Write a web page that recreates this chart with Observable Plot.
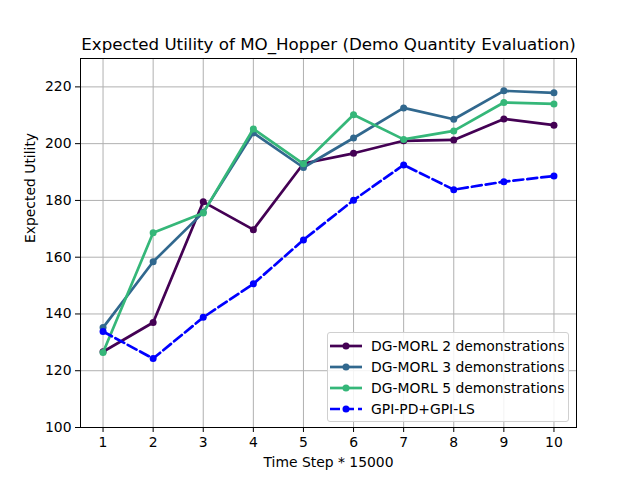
<!DOCTYPE html>
<html>
<head>
<meta charset="utf-8">
<script src="https://cdn.jsdelivr.net/npm/d3@7"></script>
<script src="https://cdn.jsdelivr.net/npm/@observablehq/plot@0.6"></script>
<style>
  body { margin: 0; background: white; font-family: "DejaVu Sans", sans-serif; }
  #wrap { position: relative; width: 640px; height: 480px; }
  #legend { position: absolute; left: 327px; top: 332px; width: 240px; height: 86px;
    border: 1px solid #d0d0d0; border-radius: 3px; background: rgba(255,255,255,0.85);
    font-size: 13.9px; color: #000; padding-top: 2px; box-sizing: content-box; }
  .row { height: 21px; display: flex; align-items: center; white-space: nowrap; }
  .row svg { margin-left: 2px; margin-right: 9px; }
</style>
</head>
<body>
<div id="wrap"></div>
<script>
const steps = [1, 2, 3, 4, 5, 6, 7, 8, 9, 10];
const yTicks = [100, 120, 140, 160, 180, 200, 220];
const seriesNames = ["DG-MORL 2 demonstrations", "DG-MORL 3 demonstrations", "DG-MORL 5 demonstrations", "GPI-PD+GPI-LS"];
const seriesColors = ["#440154", "#31688e", "#35b779", "#0000ff"];
const seriesDash = [null, null, null, "10,4"];
const dg2 = [126.7, 137.0, 179.5, 169.7, 193.0, 196.6, 201.0, 201.3, 208.7, 206.5];
const dg3 = [135.2, 158.4, 175.8, 203.8, 191.6, 202.0, 212.6, 208.6, 218.6, 217.9];
const dg5 = [126.4, 168.6, 175.6, 205.2, 192.9, 210.2, 201.5, 204.5, 214.5, 214.0];
const gpi = [133.8, 124.3, 138.8, 150.6, 166.1, 180.1, 192.5, 183.8, 186.6, 188.6];
const seriesValues = [dg2, dg3, dg5, gpi];

const lineMarks = [];
seriesValues.forEach((vals, i) => {
  const data = steps.map((s, j) => ({x: s, y: vals[j]}));
  lineMarks.push(Plot.line(data, {x: "x", y: "y", stroke: seriesColors[i], strokeWidth: 2.7,
    strokeDasharray: seriesDash[i] || undefined}));
  lineMarks.push(Plot.dot(data, {x: "x", y: "y", fill: seriesColors[i], r: 3.5}));
});

const chart = Plot.plot({
  width: 640, height: 480,
  marginLeft: 80, marginRight: 64, marginTop: 58, marginBottom: 53,
  style: {fontFamily: "DejaVu Sans", fontSize: "13.9px", color: "black", background: "white"},
  x: {domain: [0.55, 10.45]},
  y: {domain: [100, 230]},
  marks: [
    Plot.gridX(steps, {stroke: "#b0b0b0", strokeOpacity: 1, strokeWidth: 1}),
    Plot.gridY(yTicks, {stroke: "#b0b0b0", strokeOpacity: 1, strokeWidth: 1}),
    ...lineMarks,
    Plot.frame({stroke: "black", strokeWidth: 1}),
    Plot.axisX(steps, {tickSize: 5, tickPadding: 5, label: null, tickFormat: d => String(d)}),
    Plot.axisY(yTicks, {tickSize: 5, tickPadding: 4, label: null, tickFormat: d => String(d)}),
    Plot.text(["Time Step * 15000"], {frameAnchor: "bottom", lineAnchor: "middle", dy: 35, fontSize: 13.9}),
    Plot.text(["Expected Utility"], {frameAnchor: "left", lineAnchor: "middle", dx: -50, rotate: -90, fontSize: 13.9}),
    Plot.text(["Expected Utility of MO_Hopper (Demo Quantity Evaluation)"], {frameAnchor: "top", lineAnchor: "middle", dy: -14, fontSize: 16.7})
  ]
});
const wrap = document.getElementById("wrap");
wrap.appendChild(chart);

const legend = document.createElement("div");
legend.id = "legend";
seriesNames.forEach((name, i) => {
  const row = document.createElement("div");
  row.className = "row";
  const dash = seriesDash[i] ? ` stroke-dasharray="10,4"` : "";
  row.innerHTML = `<svg width="32" height="10"><line x1="0" y1="5" x2="32" y2="5" stroke="${seriesColors[i]}" stroke-width="2.7"${dash}/><circle cx="16" cy="5" r="3.5" fill="${seriesColors[i]}"/></svg><span>${name}</span>`;
  legend.appendChild(row);
});
wrap.appendChild(legend);
</script>
</body>
</html>
